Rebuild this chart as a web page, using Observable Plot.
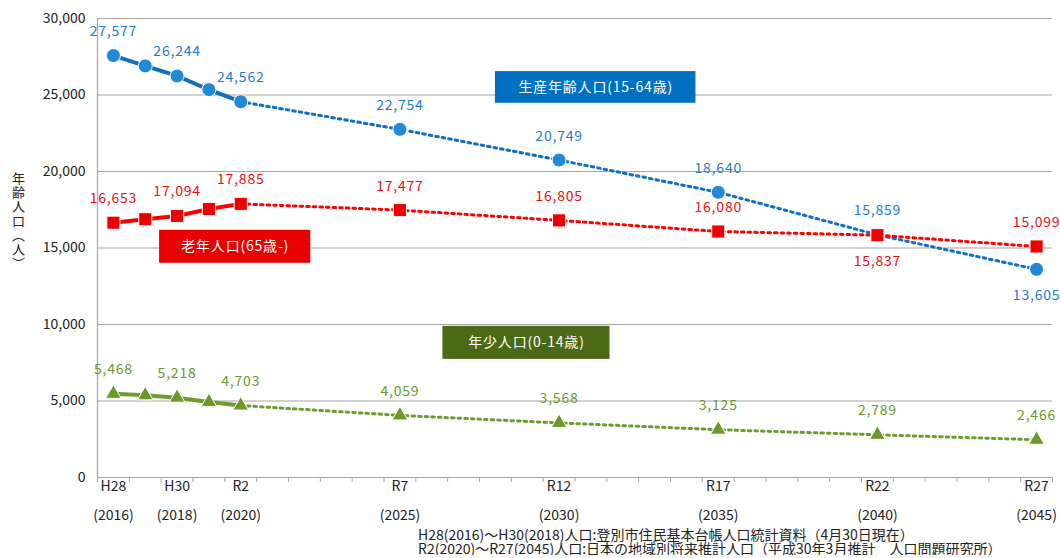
<!DOCTYPE html>
<html>
<head>
<meta charset="utf-8">
<script src="https://cdn.jsdelivr.net/npm/d3@7"></script>
<script src="https://cdn.jsdelivr.net/npm/@observablehq/plot@0.6"></script>
<style>
  html, body { margin: 0; padding: 0; background: #fff; }
  #chart { width: 1060px; height: 527px; }
  #caption {
    margin-left: 418px;
    font-family: "Noto Sans CJK JP", sans-serif;
    font-size: 14px;
    line-height: 14px;
    color: #222;
    white-space: nowrap;
  }
  .labels text { letter-spacing: 0.8px; }
</style>
</head>
<body>
<div id="chart"></div>
<div id="caption">
  <div>H28(2016)～H30(2018)人口:登別市住民基本台帳人口統計資料（4月30日現在）</div>
  <div>R2(2020)～R27(2045)人口:日本の地域別将来推計人口（平成30年3月推計　人口問題研究所）</div>
</div>
<script>
// ---- data ----
const years   = [2016, 2017, 2018, 2019, 2020, 2025, 2030, 2035, 2040, 2045];
const working = [27577, 26900, 26244, 25350, 24562, 22754, 20749, 18640, 15859, 13605]; // 生産年齢人口
const elderly = [16653, 16880, 17094, 17550, 17885, 17477, 16805, 16080, 15837, 15099]; // 老年人口
const youth   = [5468, 5370, 5218, 4930, 4703, 4059, 3568, 3125, 2789, 2466];         // 年少人口

const tickYears = [2016, 2018, 2020, 2025, 2030, 2035, 2040, 2045];
const tickEras  = ["H28", "H30", "R2", "R7", "R12", "R17", "R22", "R27"];
const yTicks    = [0, 5000, 10000, 15000, 20000, 25000, 30000];
const labeledYears = [2016, 2018, 2020, 2025, 2030, 2035, 2040, 2045];

const seriesNames = ["working", "elderly", "youth"];
const seriesTitles = ["生産年齢人口(15-64歳)", "老年人口(65歳-)", "年少人口(0-14歳)"];
// annotation boxes (data coordinates)
const boxX1 = [2028.0, 2017.45, 2026.35];
const boxX2 = [2034.3, 2022.2, 2031.6];
const boxY1 = [24460, 14000, 7720];
const boxY2 = [26530, 16160, 9880];
// labels placed below the point
const belowLabels = [["working", 2045], ["elderly", 2040]];

// ---- styles ----
const lineColor  = {working: "#1270c0", elderly: "#ff0000", youth: "#6e9c30"};
const dotColor   = {working: "#2189d6", elderly: "#ee0000", youth: "#6a9a2a"};
const labelColor = {working: "#1f7bc8", elderly: "#e81010", youth: "#6a982c"};
const boxColor   = {working: "#0070c0", elderly: "#e60000", youth: "#4b6a16"};
const symbolOf   = {working: "circle", elderly: "square", youth: "triangle"};
const rOf        = {working: 7, elderly: 7.4, youth: 5.8};

const valuesOf = {working, elderly, youth};
const rows = seriesNames.flatMap(s => years.map((year, i) => ({series: s, year, value: valuesOf[s][i]})));
const boxes = seriesNames.map((s, i) => ({series: s, title: seriesTitles[i], x1: boxX1[i], x2: boxX2[i], y1: boxY1[i], y2: boxY2[i]}));
const isBelow = d => belowLabels.some(([s, y]) => s === d.series && y === d.year);
const labelRows = rows.filter(d => labeledYears.includes(d.year));
const halfYears = d3.range(2015.5, 2046, 1);
const fmt = d3.format(",");

const seriesMarks = seriesNames.flatMap(s => {
  const data = rows.filter(d => d.series === s);
  return [
    Plot.line(data.filter(d => d.year <= 2020), {x: "year", y: "value", stroke: lineColor[s], strokeWidth: 4}),
    Plot.line(data.filter(d => d.year >= 2020), {x: "year", y: "value", stroke: lineColor[s], strokeWidth: 3, strokeDasharray: "2.6,4"}),
    Plot.dot(data, {x: "year", y: "value", symbol: symbolOf[s], r: rOf[s], fill: dotColor[s], stroke: "white", strokeWidth: 1})
  ];
});

const chart = Plot.plot({
  width: 1060,
  height: 527,
  marginLeft: 97,
  marginRight: 8,
  marginTop: 18,
  marginBottom: 50,
  x: {domain: [2015.5, 2045.5], axis: null},
  y: {domain: [0, 30000], axis: null},
  style: {fontFamily: "'Noto Sans CJK JP', sans-serif", fontSize: "14px", background: "white", color: "#222", overflow: "visible"},
  marks: [
    Plot.ruleY(yTicks, {stroke: "#a6a6a6", strokeWidth: 1.2}),
    Plot.ruleX([2015.5], {stroke: "#a6a6a6", strokeWidth: 1.2}),
    Plot.axisY({ticks: yTicks, tickSize: 0, tickPadding: 12, tickFormat: fmt, fill: "#222", fontSize: 14}),
    Plot.axisX({ticks: halfYears, tickSize: 5, tickFormat: () => "", stroke: "#a6a6a6"}),
    Plot.text(tickYears, {x: d => d, y: () => 0, text: (d, i) => tickEras[i], dy: 9, fill: "#222", fontSize: 14}),
    Plot.text(tickYears, {x: d => d, y: () => 0, text: d => `(${d})`, dy: 38, fill: "#222", fontSize: 14}),
    Plot.text(["年\n齢\n人\n口\n︵\n人\n︶"], {text: d => d, frameAnchor: "left", dx: -79, dy: -27, lineHeight: 1.1, textAnchor: "middle", fontSize: 13, fill: "#222"}),
    ...seriesMarks,
    Plot.rect(boxes, {x1: "x1", x2: "x2", y1: "y1", y2: "y2", fill: d => boxColor[d.series]}),
    Plot.text(boxes, {x: d => (d.x1 + d.x2) / 2, y: d => (d.y1 + d.y2) / 2, text: "title", fill: "white", fontSize: 14}),
    Plot.text(labelRows.filter(d => !isBelow(d)), {x: "year", y: "value", text: d => fmt(d.value), dy: -24, fill: d => labelColor[d.series], fontSize: 14}),
    Plot.text(labelRows.filter(isBelow), {x: "year", y: "value", text: d => fmt(d.value), dy: 26, fill: d => labelColor[d.series], fontSize: 14})
  ]
});
// letter spacing for box titles and value labels (last three text marks)
const textGroups = chart.querySelectorAll('g[aria-label="text"]');
textGroups.forEach((g, i) => { if (i >= textGroups.length - 3) g.classList.add("labels"); });
document.getElementById("chart").appendChild(chart);
</script>
</body>
</html>
